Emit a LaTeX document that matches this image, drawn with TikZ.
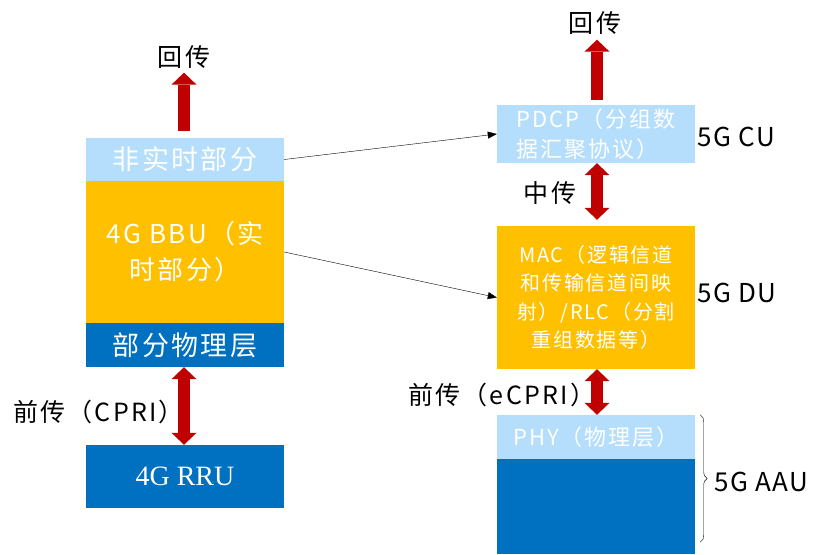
\documentclass[tikz,border=0pt]{standalone}
\usepackage{fontspec}
\setmainfont{Noto Sans CJK SC}[LetterSpace=9]
\newfontfamily\latinfont{Noto Sans CJK SC}[LetterSpace=6]
\newfontfamily\rrufont{Liberation Serif}
\usetikzlibrary{arrows.meta,decorations.pathreplacing}

\definecolor{lightsky}{RGB}{180,222,252}
\definecolor{bbuyellow}{RGB}{255,192,0}
\definecolor{phyblue}{RGB}{0,112,192}
\definecolor{linkred}{RGB}{192,0,0}

\tikzset{
  layer/.style={minimum width=198pt, inner sep=0pt, text=white, align=center},
  lab/.style={inner sep=0pt, font=\fontsize{25}{28}\selectfont},
  haul/.style={line width=12pt, draw=linkred, -{Triangle[width=25pt,length=12pt,line width=0pt]}},
  fronthaul/.style={line width=12pt, draw=linkred, {Triangle[width=25pt,length=12pt,line width=0pt]}-{Triangle[width=25pt,length=12pt,line width=0pt]}},
  split/.style={thin, -{Triangle[length=9pt,width=7pt]}}
}

\begin{document}
\begin{tikzpicture}[x=1pt,y=-1pt]
\useasboundingbox (0,0) rectangle (816,554);
% 4G side
\node[layer, fill=lightsky, minimum height=43pt, font=\fontsize{27}{30}\selectfont] (nrt) at (185,159.5) {非实时部分};
\node[layer, fill=bbuyellow, minimum height=142pt, font=\fontsize{26}{36}\selectfont] (bbu) at (185,252) {4G BBU（实\\时部分）};
\node[layer, fill=phyblue, minimum height=44pt, font=\fontsize{27}{30}\selectfont] (pphy) at (185,345) {部分物理层};
\node[layer, fill=phyblue, minimum height=63pt, font=\rrufont\fontsize{28}{30}\selectfont] (rru) at (185,476.5) {4G RRU};
\node[lab] (bh1) at (184,57) {回传};
\node[lab, anchor=west] (fh1) at (13,412) {前传（CPRI）};
% 5G side
\node[layer, fill=lightsky, minimum height=58pt, align=left, font=\fontsize{22}{30}\selectfont] (pdcp) at (596,134) {PDCP（分组数\\据汇聚协议）};
\node[layer, fill=bbuyellow, minimum height=143pt, font=\fontsize{20}{28.5}\selectfont] (mac) at (596,297.5) {MAC（逻辑信道\\和传输信道间映\\射）/RLC（分割\\重组数据等）};
\node[layer, fill=lightsky, minimum height=44pt, font=\fontsize{22}{26}\selectfont] (phy) at (596,437) {PHY（物理层）};
\node[layer, fill=phyblue, minimum height=95pt] (aau) at (596,506.5) {};
\node[lab] (bh2) at (595,23) {回传};
\node[lab] (mh) at (550,193) {中传};
\node[lab, anchor=west] (fh2) at (408,395) {前传（eCPRI）};
\node[lab, anchor=west, font=\latinfont\fontsize{26}{28}\selectfont] (cu) at (697,137) {5G CU};
\node[lab, anchor=west, font=\latinfont\fontsize{26}{28}\selectfont] (du) at (697,293) {5G DU};
\node[lab, anchor=west, font=\latinfont\fontsize{26}{28}\selectfont] (aaul) at (714,482) {5G AAU};
\coordinate (bt) at ([xshift=5pt]phy.north east);
\coordinate (bb) at ([xshift=5pt,yshift=12pt]aau.south east);

% red links
\draw[haul, shorten <=7pt, shorten >=4pt] ([xshift=-1pt]nrt.north) -- (bh1.south);
\draw[fronthaul] ([xshift=-1pt]pphy.south) -- ([xshift=-1pt]rru.north);
\draw[haul, shorten <=5pt, shorten >=5pt] ([xshift=1pt]pdcp.north) -- ([xshift=2pt]bh2.south);
\draw[fronthaul, shorten >=6pt] ([xshift=1pt]pdcp.south) -- ([xshift=1pt]mac.north);
\draw[fronthaul] ([xshift=1pt]mac.south) -- ([xshift=1pt]phy.north);

% split lines
\draw[split] (nrt.east) -- (pdcp.west);
\draw[split] (bbu.east) -- (mac.west);

\draw[decorate, decoration={brace, amplitude=7pt}] (bt) -- (bb);
\end{tikzpicture}
\end{document}
